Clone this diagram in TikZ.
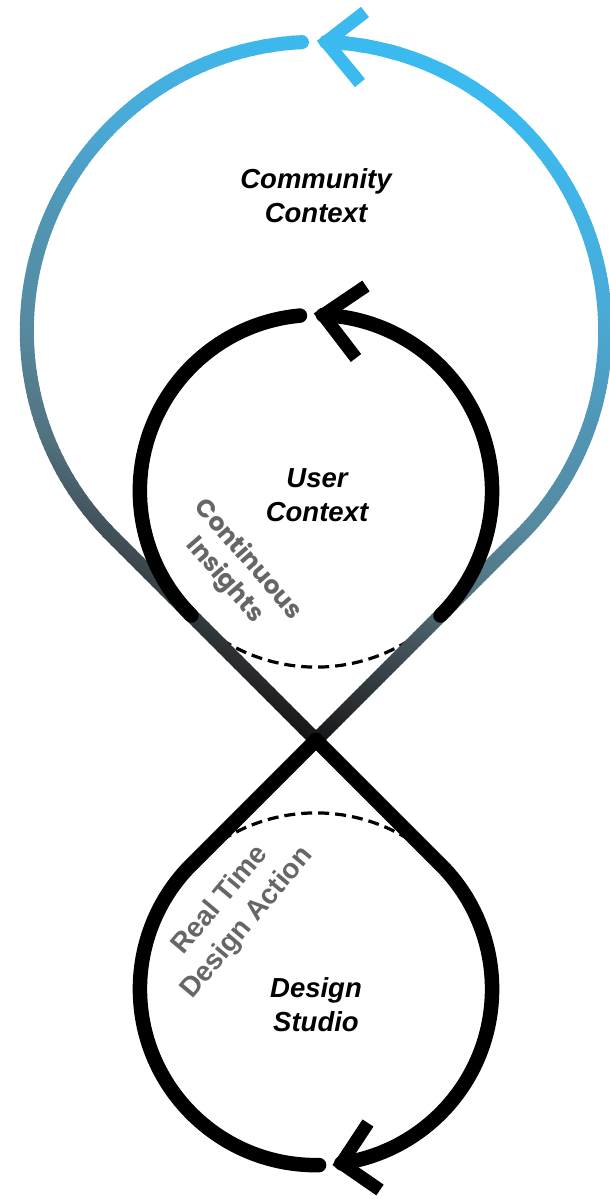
\documentclass[tikz,border=0pt]{standalone}
\usepackage{fontspec}
\setmainfont{Liberation Sans}
\newfontfamily\popfont{Poppins}
\definecolor{g0}{RGB}{59,186,239}
\definecolor{g1}{RGB}{74,170,215}
\definecolor{g2}{RGB}{80,150,180}
\definecolor{g3}{RGB}{86,138,160}
\definecolor{g4}{RGB}{82,115,128}
\definecolor{g5}{RGB}{64,78,86}
\definecolor{g6}{RGB}{40,42,44}
\definecolor{g7}{RGB}{12,12,12}
\definecolor{textgray}{RGB}{102,102,102}
\newcommand\outerA{(C) -- (ORt) arc[start angle=45, end angle=-88, radius=289.2]}
\newcommand\outerB{(OTa) arc[start angle=-92.8, end angle=-225, radius=289.2] -- (C)}
\begin{document}
\begin{tikzpicture}[x=1pt,y=-1pt,
  bandline/.style={line width=14pt, line cap=round},
  blk/.style={line width=14.5pt, line cap=round, draw=black},
  arrowline/.style={line width=13pt, line cap=butt, line join=miter, miter limit=10},
  dashedarc/.style={line width=3.2pt, dash pattern=on 11pt off 6pt, draw=black},
  lbl/.style={font=\fontsize{27.5}{34}\selectfont\bfseries\itshape, align=center, inner sep=0pt},
  glbl/.style={text=textgray, font=\popfont\fontsize{25}{31}\selectfont\bfseries, align=center, inner sep=0pt},
  glbltwo/.style={text=textgray, font=\fontsize{28}{35}\selectfont\bfseries, align=center, inner sep=0pt}]
\useasboundingbox (0,0) rectangle (610,1199);
% key points
\coordinate (C) at (316,740);
\coordinate (ORt) at (520.5,535.5);
\coordinate (OLt) at (111.5,535.5);
\coordinate (OTa) at (301.9,42.15);
\coordinate (OV) at (326.1,42);
\coordinate (OA1) at (365,12);
\coordinate (OA2) at (360,83);
\coordinate (ULt) at (191.5,615.5);
\coordinate (URt) at (440.5,615.5);
\coordinate (UTa) at (300,315.6);
\coordinate (UV) at (323.1,315);
\coordinate (UA1) at (366,286);
\coordinate (UA2) at (356,358);
\coordinate (LLt) at (191.5,864.5);
\coordinate (LRt) at (440.5,864.5);
\coordinate (LBa) at (319.1,1165.1);
\coordinate (LV) at (341.4,1163.3);
\coordinate (LA1) at (368,1123);
\coordinate (LA2) at (380,1190);
% dashed completions of the inner circles
\coordinate (UD) at ({316+176.1*cos(128)},{491+176.1*sin(128)});
\coordinate (LD) at ({316+176.1*cos(232)},{989+176.1*sin(232)});
\draw[dashedarc] (UD) arc[start angle=128, end angle=52, radius=176.1];
\draw[dashedarc] (LD) arc[start angle=232, end angle=308, radius=176.1];
% outer gradient loop, drawn in tilted bands
\foreach \sa/\sb/\ca/\cb in {-60/40/g0/g0, 40/200/g0/g1, 200/320/g1/g2, 320/440/g2/g3, 440/540/g3/g4, 540/620/g4/g5, 620/700/g5/g6, 700/760/g6/g7, 760/840/g7/g7}{
  \pgfmathtruncatemacro\nn{(\sb-\sa)/5}
  \foreach \j in {1,...,\nn}{
    \pgfmathsetmacro\lo{\sa+(\j-1)*(\sb-\sa)/\nn}
    \pgfmathsetmacro\hi{\sa+\j*(\sb-\sa)/\nn}
    \pgfmathtruncatemacro\pc{100*(\j-0.5)/\nn}
    \begin{scope}
      \clip (-20,{\lo-0.6-131}) -- (640,{\lo-0.6+126}) -- (640,{\hi+0.6+126}) -- (-20,{\hi+0.6-131}) -- cycle;
      \draw[bandline, draw=\cb!\pc!\ca] \outerA;
      \draw[bandline, draw=\cb!\pc!\ca] \outerB;
    \end{scope}
  }
}
% lower loop (black)
\draw[blk] (C) -- (LRt) arc[start angle=-45, end angle=81.7, radius=176.1];
\draw[blk] (LBa) arc[start angle=89, end angle=225, radius=176.1] -- (C);
% inner user loop (black)
\draw[blk] (URt) arc[start angle=45, end angle=-87.7, radius=176.1];
\draw[blk] (UTa) arc[start angle=-95.2, end angle=-225, radius=176.1];
% arrowheads
\draw[arrowline, draw=g0] (OA1) -- (OV) -- (OA2);
\draw[arrowline, draw=black] (UA1) -- (UV) -- (UA2);
\draw[arrowline, draw=black] (LA1) -- (LV) -- (LA2);
% labels
\node[lbl] (cc) at (316,196) {Community\\Context};
\node[lbl] (uc) at (317,495) {User\\Context};
\node[lbl] (ds) at (316,1005) {Design\\Studio};
\node[glbl, rotate=-49] (ci) at (236,570) {Continuous\\Insights};
\node[glbltwo, rotate=50] (rt) at (234,912) {Real Time\\Design Action};
\end{tikzpicture}
\end{document}
